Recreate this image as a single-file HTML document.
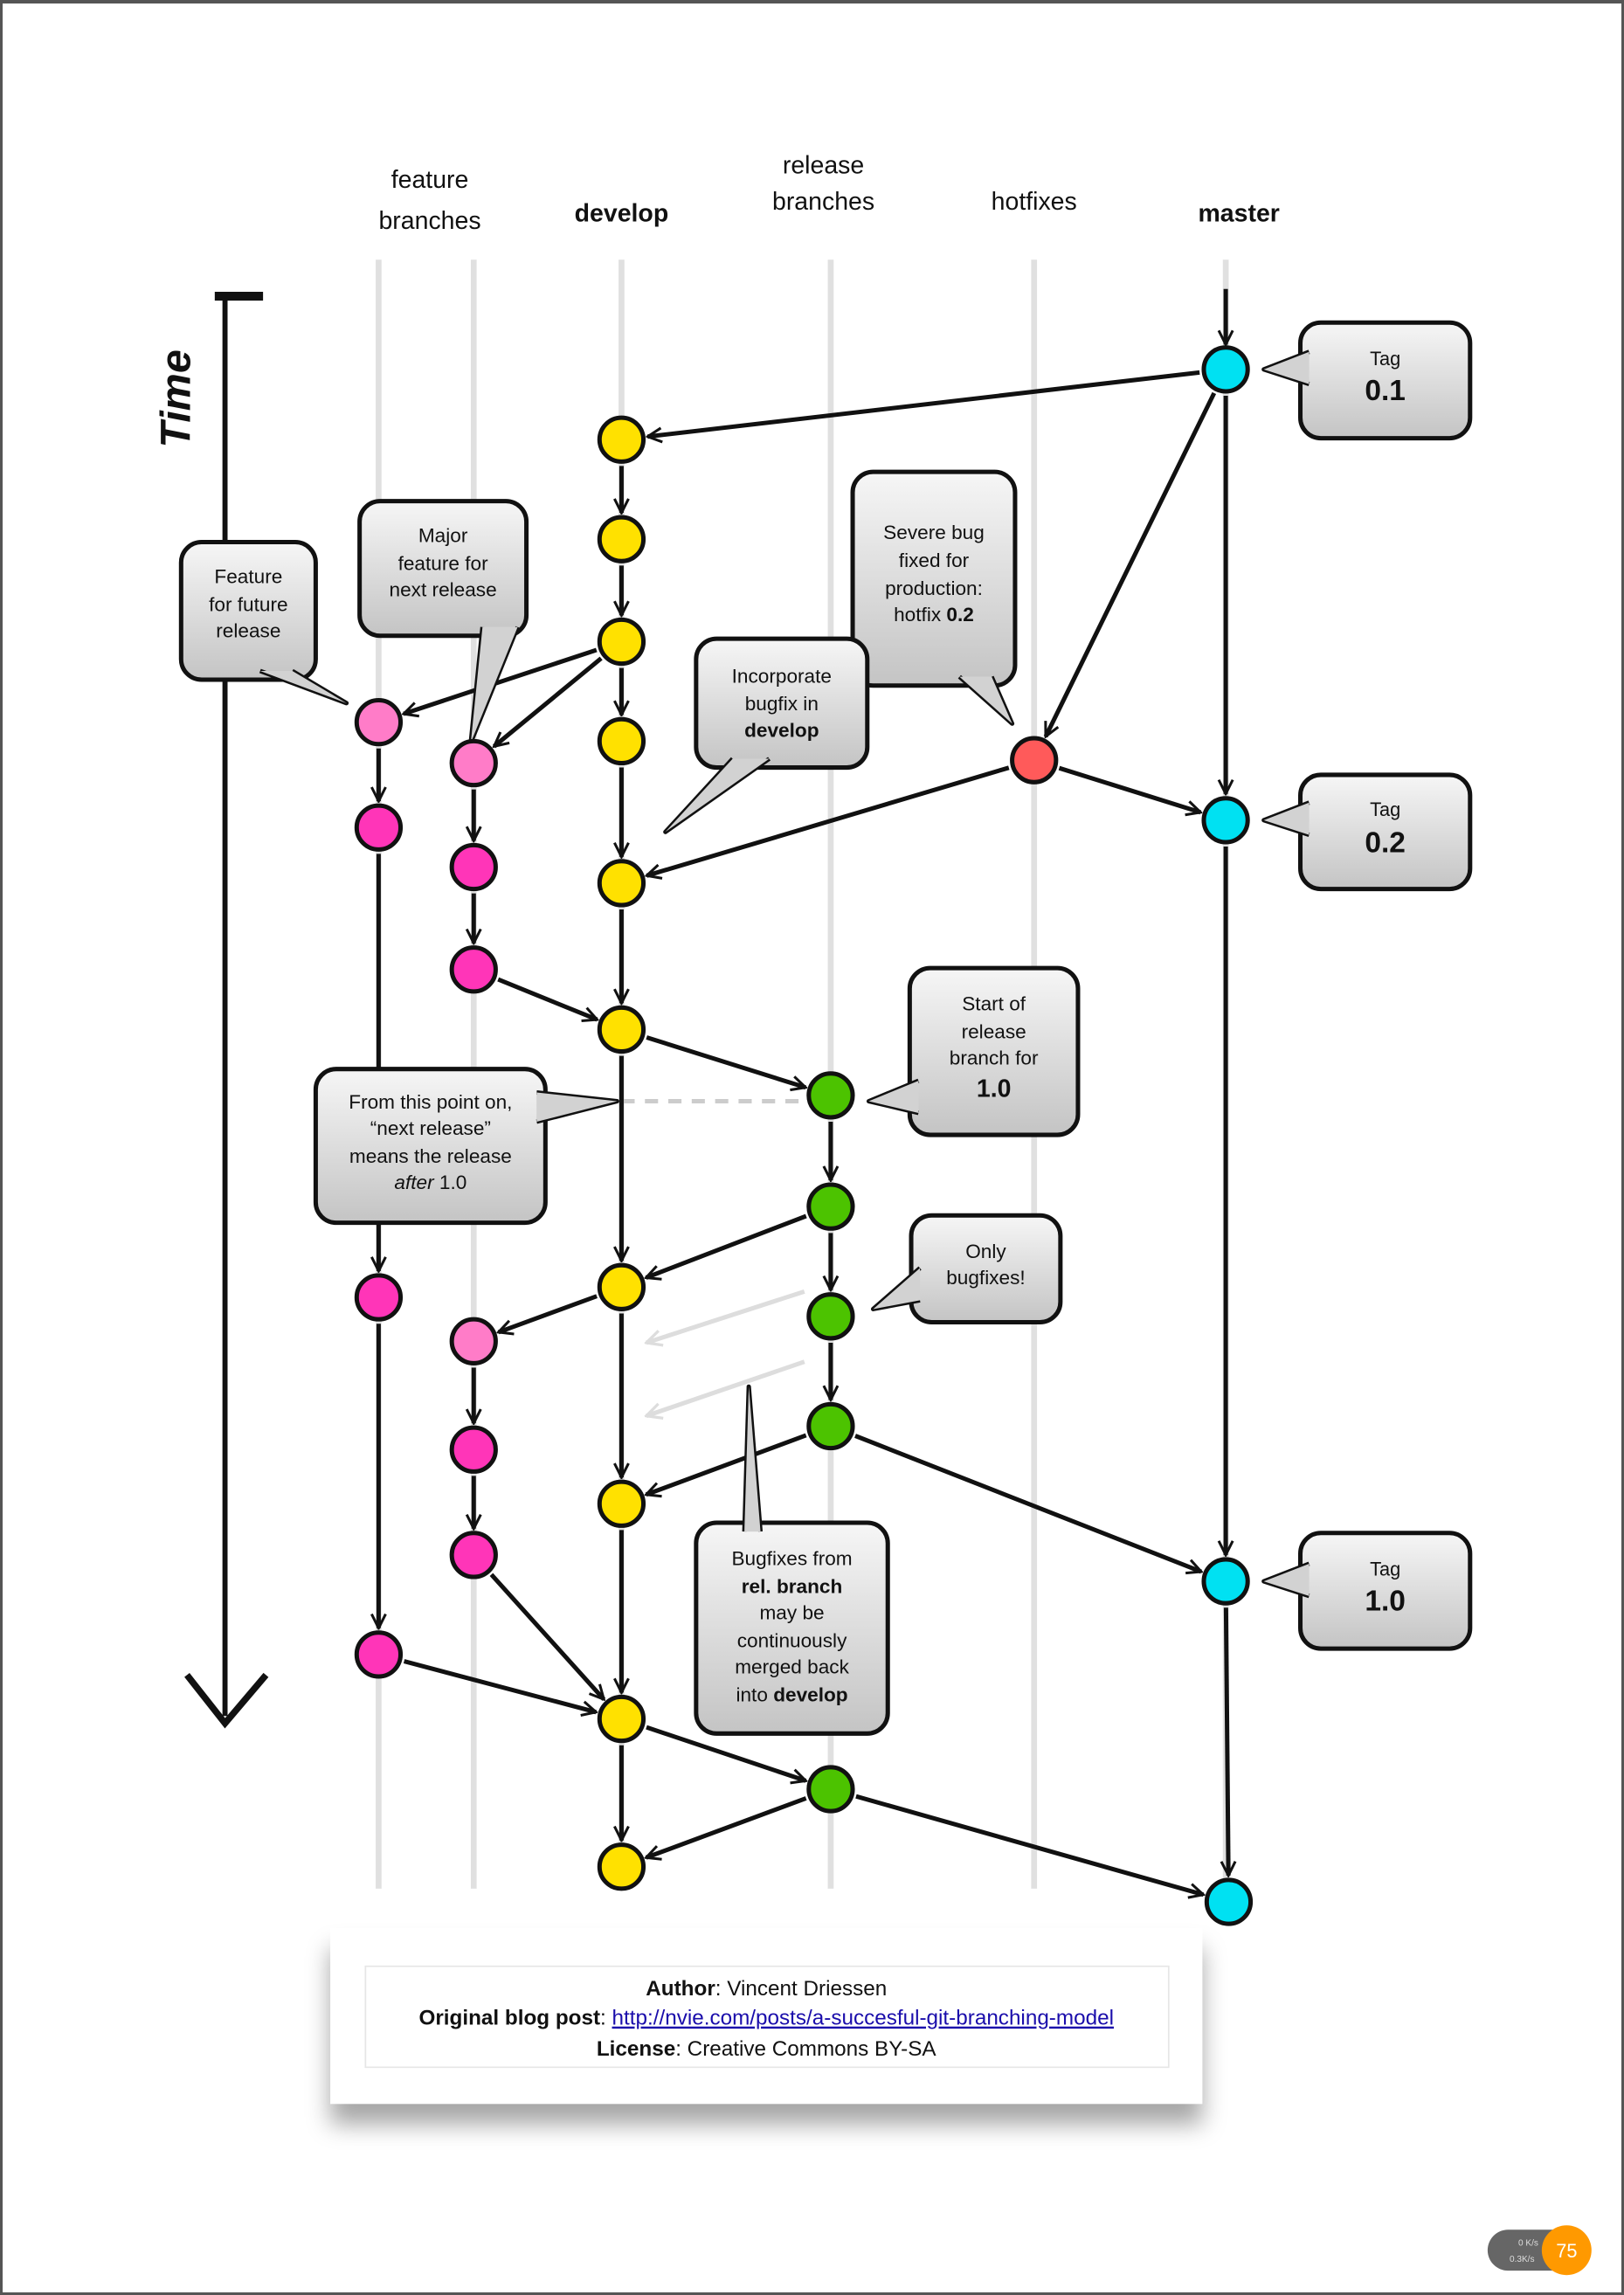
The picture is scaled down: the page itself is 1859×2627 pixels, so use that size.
<!DOCTYPE html>
<html><head><meta charset="utf-8"><style>
html,body{margin:0;padding:0;background:#fff}
#wrap{width:1859px;height:2627px;position:relative;box-sizing:border-box;border:3px solid #555;border-top-width:4px;overflow:hidden}
svg{position:absolute;left:0;top:0}
text{font-family:"Liberation Sans",sans-serif}
</style></head><body>
<div id="wrap">
<svg id="chart" width="1859" height="2627" viewBox="0 0 1110 1568" preserveAspectRatio="none">
<defs>
<linearGradient id="bub" x1="0" y1="0" x2="0" y2="1"><stop offset="0" stop-color="#f6f6f6"/><stop offset="1" stop-color="#c4c4c4"/></linearGradient>
<marker id="arr" viewBox="0 0 20 20" refX="18" refY="10" markerWidth="12" markerHeight="12" markerUnits="userSpaceOnUse" orient="auto"><path d="M2,2 L18,10 L2,18" fill="none" stroke="#111" stroke-width="3"/></marker>
<marker id="arrg" viewBox="0 0 20 20" refX="18" refY="10" markerWidth="13" markerHeight="13" markerUnits="userSpaceOnUse" orient="auto"><path d="M2,2 L18,10 L2,18" fill="none" stroke="#ddd" stroke-width="3"/></marker>
<filter id="sh" x="-10%" y="-10%" width="120%" height="160%"><feDropShadow dx="0" dy="14" stdDeviation="8" flood-color="#000" flood-opacity="0.35"/></filter>
</defs>
<g id="lanes"></g>
<g id="headers"></g>
<g id="timeaxis">
<line x1="152" y1="202" x2="152" y2="1170" stroke="#111" stroke-width="3.5"/>
<line x1="145" y1="200" x2="178" y2="200" stroke="#111" stroke-width="6"/>
<path d="M126,1142 L152,1175 L180,1142" fill="none" stroke="#111" stroke-width="4.5"/>
<text x="128" y="270" transform="rotate(-90 128 270)" text-anchor="middle" font-size="29" font-weight="bold" font-style="italic" fill="#111">Time</text>
</g>
<g id="extras"></g>
<g id="edges"></g>
<g id="bubbles"></g>
<g id="nodes"></g>
<g>
<rect x="224" y="1315" width="596" height="120" fill="#fff" filter="url(#sh)"/>
<rect x="248" y="1341" width="549" height="69" fill="#fff" stroke="#e6e6e6"/>
<text x="522" y="1361" text-anchor="middle" font-size="14.5" fill="#111"><tspan font-weight="bold">Author</tspan>: Vincent Driessen</text>
<text x="522" y="1381" text-anchor="middle" font-size="14.5" fill="#111"><tspan font-weight="bold">Original blog post</tspan>: <tspan fill="#1a0dab" text-decoration="underline">http://nvie.com/posts/a-succesful-git-branching-model</tspan></text>
<text x="522" y="1402" text-anchor="middle" font-size="14.5" fill="#111"><tspan font-weight="bold">License</tspan>: Creative Commons BY-SA</text>
</g>
<g>
<rect x="1015" y="1521" width="60" height="28" rx="14" fill="#666"/>
<circle cx="1069" cy="1535" r="17" fill="#ff9900"/>
<text x="1069" y="1540" text-anchor="middle" font-size="13" fill="#fff">75</text>
<text x="1036" y="1532" font-size="6" fill="#ddd">0 K/s</text>
<text x="1030" y="1543" font-size="6" fill="#ddd">0.3K/s</text>
</g>
</svg>
</div>
<script>
const NS='http://www.w3.org/2000/svg';
const laneNames=['feature-1','feature-2','develop','release','hotfix','master'];
const laneX=[257,322,423,566,705,836];
const nodeLane=[5,5,5,5, 2,2,2,2,2,2,2,2,2,2, 0,0,0,0, 1,1,1,1,1,1, 3,3,3,3,3, 4];
const nodeY=[250,558,1078,1297, 298,366,436,504,601,701,877,1025,1172,1273, 491,563,884,1128, 519,590,660,914,988,1060, 746,822,897,972,1220, 517];
const nodeColor=['#00e1f2','#00e1f2','#00e1f2','#00e1f2','#ffe100','#ffe100','#ffe100','#ffe100','#ffe100','#ffe100','#ffe100','#ffe100','#ffe100','#ffe100','#ff7cc8','#ff35b8','#ff35b8','#ff35b8','#ff7cc8','#ff35b8','#ff35b8','#ff7cc8','#ff35b8','#ff35b8','#4cc300','#4cc300','#4cc300','#4cc300','#4cc300','#ff5a5a'];
const edgeFrom=[0,1,2, 4,5,6,7,8,9,10,11,12, 0,0,29,29, 6,6,14,15,16, 18,19,20, 9,24,25,26, 25,10,21,22,27,27,23,17,12,28,28];
const edgeTo=[1,2,3, 5,6,7,8,9,10,11,12,13, 4,29,1,8, 14,18,15,16,17, 19,20,9, 24,25,26,27, 10,21,22,23,11,2,12,12,28,13,3];
const s=(t,a,p)=>{const e=document.createElementNS(NS,t);for(const k in a)e.setAttribute(k,a[k]);(p||document.getElementById('chart')).appendChild(e);return e;};
const nx=i=>laneX[nodeLane[i]]+(i===3?2:0);
const ny=i=>nodeY[i];
const lanesG=document.getElementById('lanes');
laneX.forEach((x,i)=>{const l=s('line',{x1:x,y1:175,x2:x,y2:1288,stroke:'#e0e0e0','stroke-width':4},lanesG);

});
const hG=document.getElementById('headers');
const heads=[[292,126,'feature',0],[292,154,'branches',0],[423,149,'develop',1],[561,116,'release',0],[561,141,'branches',0],[705,141,'hotfixes',0],[845,149,'master',1]];
heads.forEach(h=>{const t=s('text',{x:h[0],y:h[1],'text-anchor':'middle','font-size':17,'font-weight':h[3]?'bold':'normal',fill:'#111'},hG);t.textContent=h[2];

});
const exG=document.getElementById('extras');
s('line',{x1:423,y1:750,x2:548,y2:750,stroke:'#ccc','stroke-width':3,'stroke-dasharray':'9 7'},exG);
s('line',{x1:548,y1:880,x2:440,y2:915,stroke:'#ddd','stroke-width':3,'marker-end':'url(#arrg)'},exG);
s('line',{x1:548,y1:928,x2:440,y2:965,stroke:'#ddd','stroke-width':3,'marker-end':'url(#arrg)'},exG);
s('line',{x1:836,y1:195,x2:836,y2:233,stroke:'#111','stroke-width':3,'marker-end':'url(#arr)'},exG);
const eG=document.getElementById('edges');
const R=15;
edgeFrom.forEach((f,k)=>{const t=edgeTo[k];let x1=nx(f),y1=ny(f),x2=nx(t),y2=ny(t);const dx=x2-x1,dy=y2-y1,L=Math.hypot(dx,dy);
const a=R+3,b=R+3;const l=s('line',{x1:x1+dx/L*a,y1:y1+dy/L*a,x2:x2-dx/L*b,y2:y2-dy/L*b,stroke:'#111','stroke-width':3,'marker-end':'url(#arr)'},eG);

});
const nG=document.getElementById('nodes');
nodeY.forEach((y,i)=>{const c=s('circle',{cx:nx(i),cy:y,r:R,fill:nodeColor[i],stroke:'#111','stroke-width':3},nG);

});
const bG=document.getElementById('bubbles');
const bubbles=[
[887,218,1003,297,'l',[862,250],[[ 'Tag',13,0,247],['0.1',20,1,271]],'tag-0-1'],
[887,527,1003,605,'l',[862,558],[['Tag',13,0,555],['0.2',20,1,580]],'tag-0-2'],
[887,1045,1003,1124,'l',[862,1078],[['Tag',13,0,1074],['1.0',20,1,1098]],'tag-1-0'],
[122,368,214,462,'b',[235,478],[['Feature',13.5,0,396],['for future',13.5,0,415],['release',13.5,0,433]],'feature-future-callout'],
[244,340,358,432,'b',[320,505],[['Major',13.5,0,368],['feature for',13.5,0,387],['next release',13.5,0,405]],'major-feature-callout'],
[581,320,692,466,'b',[690,492],[['Severe bug',13.5,0,366],['fixed for',13.5,0,385],['production:',13.5,0,404],['hotfix |0.2',13.5,0,422]],'severe-bug-callout'],
[474,434,591,522,'b',[453,566],[['Incorporate',13.5,0,464],['bugfix in',13.5,0,483],['develop',13.5,1,501]],'incorporate-callout'],
[620,659,735,773,'l',[592,750],[['Start of',13.5,0,688],['release',13.5,0,707],['branch for',13.5,0,725],['1.0',17,1,747]],'release-start-callout'],
[621,828,723,901,'l',[595,892],[['Only',13.5,0,857],['bugfixes!',13.5,0,875]],'only-bugfixes-callout'],
[214,728,371,833,'r',[420,750],[['From this point on,',13.5,0,755],['\u201cnext release\u201d',13.5,0,773],['means the release',13.5,0,792],['~after| 1.0',13.5,0,810]],'next-release-callout'],
[474,1038,605,1182,'t',[510,945],[['Bugfixes from',13.5,0,1067],['rel. branch',13.5,1,1086],['may be',13.5,0,1104],['continuously',13.5,0,1123],['merged back',13.5,0,1141],['into |develop',13.5,0,1160]],'bugfixes-merge-callout']];
bubbles.forEach(b=>{const [x1,y1,x2,y2,side,tip,lines,name]=b;const g=s('g',{},bG);


let p,q;
if(side==='l'){const cy=Math.min(tip[1],y2-25);p=[[x1+6,cy-12],tip,[x1+6,cy+10]];}
else if(side==='r'){p=[[x2-6,tip[1]-6],tip,[x2-6,tip[1]+14]];}
else if(side==='t'){p=[[tip[0]+8,y1+6],tip,[tip[0]-3,y1+6]];}
else{let bx;if(tip[0]>x2-10){bx=x2-30;p=[[bx-8,y2-6],tip,[bx+14,y2-6]];}
else if(tip[0]<(x1+x2)/2-20){p=[[x1+25,y2-6],tip,[x1+50,y2-6]];}
else if(tip[0]>x2-50){p=[[x2-30,y2-6],tip,[x2-6,y2-6]];}
else{p=[[tip[0]-8,y2-6],tip,[tip[0]+6,y2-6]];}}
const d='M'+p.map(v=>v.join(',')).join(' L');
s('rect',{x:x1,y:y1,width:x2-x1,height:y2-y1,rx:14,fill:'url(#bub)',stroke:'#111','stroke-width':3},g);
s('path',{d:d,fill:'#d2d2d2',stroke:'#111','stroke-width':3,'stroke-linejoin':'round'},g);
s('path',{d:d+' Z',fill:'#d2d2d2',stroke:'none'},g);
const cx=(x1+x2)/2;
lines.forEach(L=>{const t=s('text',{x:cx,y:L[3],'text-anchor':'middle','font-size':L[1],'font-weight':L[2]?'bold':'normal',fill:'#111'},g);
let str=L[0];
if(str.includes('|')){const [a,c]=str.split('|');const t1=s('tspan',{},t);
if(a.startsWith('~')){t1.textContent=a.slice(1);t1.setAttribute('font-style','italic');const t2=s('tspan',{},t);t2.textContent=c;}
else{t1.textContent=a;const t2=s('tspan',{'font-weight':'bold'},t);t2.textContent=c;}}
else t.textContent=str;});
});
</script>
</body></html>
